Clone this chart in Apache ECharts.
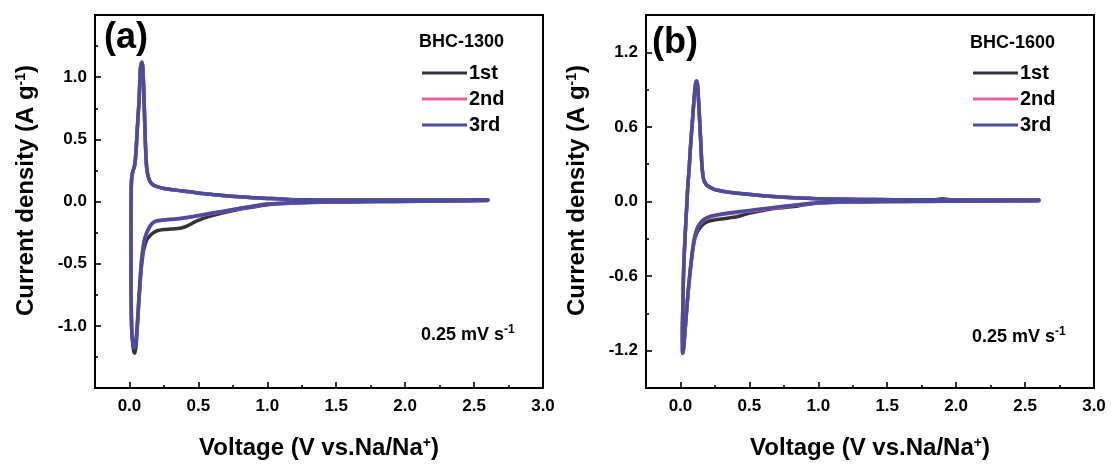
<!DOCTYPE html>
<html>
<head>
<meta charset="utf-8">
<script src="https://cdn.jsdelivr.net/npm/echarts@6/dist/echarts.min.js"></script>
<style>
html,body{margin:0;padding:0;background:#fff;}
#chart{width:1111px;height:465px;}
</style>
</head>
<body>
<div id="chart"></div>
<script>
// ---------- tick values / labels ----------
const xMajorTicks = [0, 0.5, 1.0, 1.5, 2.0, 2.5, 3.0];
const xMinorTicks = [0.25, 0.75, 1.25, 1.75, 2.25, 2.75];
const aYMajorTicks = [-1.0, -0.5, 0.0, 0.5, 1.0];
const aYMinorTicks = [-1.25, -0.75, -0.25, 0.25, 0.75, 1.25];
const bYMajorTicks = [-1.2, -0.6, 0.0, 0.6, 1.2];
const bYMinorTicks = [-0.9, -0.3, 0.3, 0.9];

const seriesNames = ['1st', '2nd', '3rd'];
const panelTitles = ['BHC-1300', 'BHC-1600'];

// ---------- data: [voltage V, current density A/g] ----------
// Panel (a) BHC-1300
const a1st = [
 [2.60,0.008],[2.40,0.005],[2.20,0.003],[2.00,0.001],[1.80,-0.001],[1.60,-0.004],[1.40,-0.007],[1.25,-0.011],
 [1.10,-0.018],[1.00,-0.026],[0.92,-0.040],[0.80,-0.062],[0.68,-0.090],[0.58,-0.120],[0.49,-0.155],[0.44,-0.185],
 [0.40,-0.205],[0.35,-0.218],[0.30,-0.222],[0.25,-0.225],[0.20,-0.235],[0.17,-0.255],[0.145,-0.28],[0.125,-0.31],
 [0.11,-0.36],[0.10,-0.41],[0.085,-0.55],[0.068,-0.82],[0.056,-1.03],[0.048,-1.16],[0.040,-1.22],[0.032,-1.21],
 [0.024,-1.15],[0.017,-1.05],[0.013,-0.85],[0.011,-0.55],[0.011,-0.25],[0.012,0.00],[0.014,0.15],[0.020,0.22],
 [0.030,0.26],[0.040,0.30],[0.050,0.44],[0.060,0.64],[0.070,0.81],[0.078,1.04],[0.083,1.09],[0.090,1.11],
 [0.096,1.08],[0.102,0.94],[0.108,0.74],[0.113,0.54],[0.119,0.37],[0.126,0.26],[0.136,0.20],[0.150,0.16],
 [0.170,0.135],[0.200,0.120],[0.250,0.105],[0.300,0.097],[0.400,0.082],[0.500,0.068],[0.600,0.057],[0.700,0.046],
 [0.800,0.038],[0.900,0.031],[1.000,0.025],[1.150,0.017],[1.300,0.014],[1.500,0.012],[1.800,0.012],[2.100,0.012],
 [2.400,0.012],[2.600,0.013]
];
const a2nd = [
 [2.60,0.009],[2.40,0.006],[2.20,0.004],[2.00,0.002],[1.80,0.000],[1.60,-0.002],[1.40,-0.005],[1.25,-0.009],
 [1.10,-0.015],[1.00,-0.021],[0.92,-0.034],[0.80,-0.056],[0.68,-0.080],[0.56,-0.102],[0.46,-0.122],[0.39,-0.134],
 [0.33,-0.143],[0.27,-0.149],[0.22,-0.154],[0.19,-0.162],[0.165,-0.180],[0.145,-0.210],[0.125,-0.255],[0.11,-0.305],
 [0.10,-0.365],[0.085,-0.51],[0.068,-0.79],[0.056,-1.00],[0.048,-1.11],[0.040,-1.15],[0.032,-1.15],[0.024,-1.11],
 [0.017,-1.04],[0.013,-0.85],[0.011,-0.55],[0.011,-0.25],[0.012,0.00],[0.014,0.15],[0.020,0.22],[0.030,0.26],
 [0.040,0.31],[0.050,0.45],[0.060,0.65],[0.070,0.82],[0.078,1.05],[0.083,1.10],[0.090,1.12],[0.096,1.09],
 [0.102,0.95],[0.108,0.75],[0.113,0.55],[0.119,0.38],[0.126,0.26],[0.136,0.20],[0.150,0.16],[0.170,0.135],
 [0.200,0.120],[0.250,0.105],[0.300,0.097],[0.400,0.082],[0.500,0.068],[0.600,0.057],[0.700,0.046],[0.800,0.038],
 [0.900,0.031],[1.000,0.025],[1.150,0.017],[1.300,0.014],[1.500,0.012],[1.800,0.012],[2.100,0.013],[2.400,0.013],
 [2.600,0.014]
];
const a3rd = [
 [2.60,0.010],[2.40,0.006],[2.20,0.004],[2.00,0.002],[1.80,0.000],[1.60,-0.002],[1.40,-0.005],[1.25,-0.008],
 [1.10,-0.014],[1.00,-0.020],[0.92,-0.033],[0.80,-0.055],[0.68,-0.078],[0.56,-0.100],[0.46,-0.120],[0.39,-0.132],
 [0.33,-0.140],[0.27,-0.145],[0.22,-0.150],[0.19,-0.158],[0.165,-0.175],[0.145,-0.205],[0.125,-0.25],[0.11,-0.30],
 [0.10,-0.36],[0.085,-0.50],[0.068,-0.78],[0.056,-1.00],[0.048,-1.12],[0.040,-1.17],[0.032,-1.18],[0.024,-1.13],
 [0.017,-1.05],[0.013,-0.85],[0.011,-0.55],[0.011,-0.25],[0.012,0.00],[0.014,0.15],[0.020,0.22],[0.030,0.26],
 [0.040,0.31],[0.050,0.45],[0.060,0.65],[0.070,0.82],[0.078,1.05],[0.083,1.10],[0.090,1.12],[0.096,1.09],
 [0.102,0.95],[0.108,0.75],[0.113,0.55],[0.119,0.38],[0.126,0.26],[0.136,0.20],[0.150,0.16],[0.170,0.135],
 [0.200,0.120],[0.250,0.105],[0.300,0.097],[0.400,0.082],[0.500,0.068],[0.600,0.057],[0.700,0.046],[0.800,0.038],
 [0.900,0.031],[1.000,0.025],[1.150,0.017],[1.300,0.014],[1.500,0.012],[1.800,0.012],[2.100,0.013],[2.400,0.013],
 [2.600,0.014]
];
// Panel (b) BHC-1600
const b1st = [
 [2.60,0.006],[2.40,0.004],[2.20,0.003],[2.00,0.002],[1.80,0.001],[1.60,0.000],[1.40,-0.002],[1.20,-0.005],
 [1.10,-0.008],[1.00,-0.013],[0.90,-0.027],[0.80,-0.043],[0.70,-0.053],[0.60,-0.072],[0.50,-0.093],[0.45,-0.110],
 [0.40,-0.125],[0.35,-0.133],[0.30,-0.140],[0.25,-0.148],[0.20,-0.160],[0.17,-0.180],[0.15,-0.200],[0.13,-0.230],
 [0.12,-0.250],[0.11,-0.280],[0.10,-0.320],[0.09,-0.385],[0.08,-0.47],[0.07,-0.57],[0.06,-0.68],[0.05,-0.81],
 [0.04,-0.95],[0.03,-1.09],[0.024,-1.17],[0.018,-1.22],[0.015,-1.21],[0.014,-1.05],[0.018,-0.80],[0.024,-0.51],
 [0.035,-0.25],[0.045,-0.05],[0.052,0.10],[0.065,0.30],[0.075,0.48],[0.085,0.62],[0.097,0.80],[0.106,0.91],
 [0.113,0.96],[0.120,0.96],[0.126,0.91],[0.131,0.81],[0.137,0.69],[0.144,0.54],[0.150,0.41],[0.155,0.30],
 [0.162,0.22],[0.170,0.17],[0.185,0.14],[0.200,0.125],[0.240,0.10],[0.280,0.088],[0.350,0.075],[0.490,0.058],
 [0.600,0.046],[0.750,0.035],[0.900,0.027],[1.030,0.021],[1.200,0.018],[1.400,0.016],[1.700,0.014],[1.850,0.014],
 [1.900,0.022],[1.950,0.014],[2.000,0.013],[2.300,0.013],[2.600,0.013]
];
const b2nd = [
 [2.60,0.007],[2.40,0.005],[2.20,0.004],[2.00,0.003],[1.80,0.002],[1.60,0.001],[1.40,-0.001],[1.20,-0.004],
 [1.10,-0.007],[1.00,-0.011],[0.90,-0.022],[0.80,-0.035],[0.70,-0.048],[0.60,-0.062],[0.50,-0.077],[0.40,-0.090],
 [0.30,-0.105],[0.25,-0.115],[0.20,-0.130],[0.17,-0.150],[0.15,-0.170],[0.13,-0.200],[0.12,-0.225],[0.11,-0.260],
 [0.10,-0.305],[0.09,-0.375],[0.08,-0.465],[0.07,-0.565],[0.06,-0.675],[0.05,-0.80],[0.04,-0.94],[0.03,-1.08],
 [0.024,-1.17],[0.018,-1.22],[0.015,-1.21],[0.014,-1.05],[0.018,-0.80],[0.024,-0.51],[0.035,-0.25],[0.045,-0.05],
 [0.052,0.10],[0.065,0.30],[0.075,0.48],[0.085,0.62],[0.097,0.80],[0.106,0.92],[0.113,0.97],[0.120,0.97],
 [0.126,0.92],[0.131,0.82],[0.137,0.70],[0.144,0.55],[0.150,0.42],[0.155,0.30],[0.162,0.22],[0.170,0.17],
 [0.185,0.14],[0.200,0.125],[0.240,0.10],[0.280,0.088],[0.350,0.075],[0.490,0.058],[0.600,0.046],[0.750,0.035],
 [0.900,0.027],[1.030,0.021],[1.200,0.018],[1.400,0.016],[1.700,0.014],[2.000,0.013],[2.300,0.013],[2.600,0.013]
];
const b3rd = [
 [2.60,0.008],[2.40,0.006],[2.20,0.004],[2.00,0.003],[1.80,0.002],[1.60,0.001],[1.40,0.000],[1.20,-0.003],
 [1.10,-0.006],[1.00,-0.010],[0.90,-0.020],[0.80,-0.032],[0.70,-0.045],[0.60,-0.058],[0.50,-0.072],[0.40,-0.085],
 [0.30,-0.100],[0.25,-0.110],[0.20,-0.125],[0.17,-0.145],[0.15,-0.165],[0.13,-0.195],[0.12,-0.220],[0.11,-0.255],
 [0.10,-0.300],[0.09,-0.370],[0.08,-0.46],[0.07,-0.56],[0.06,-0.67],[0.05,-0.80],[0.04,-0.94],[0.03,-1.08],
 [0.024,-1.17],[0.018,-1.22],[0.015,-1.21],[0.014,-1.05],[0.018,-0.80],[0.024,-0.51],[0.035,-0.25],[0.045,-0.05],
 [0.052,0.10],[0.065,0.30],[0.075,0.48],[0.085,0.62],[0.097,0.80],[0.106,0.92],[0.113,0.97],[0.120,0.97],
 [0.126,0.92],[0.131,0.82],[0.137,0.70],[0.144,0.55],[0.150,0.42],[0.155,0.30],[0.162,0.22],[0.170,0.17],
 [0.185,0.14],[0.200,0.125],[0.240,0.10],[0.280,0.088],[0.350,0.075],[0.490,0.058],[0.600,0.046],[0.750,0.035],
 [0.900,0.027],[1.030,0.021],[1.200,0.018],[1.400,0.016],[1.700,0.014],[2.000,0.013],[2.300,0.013],[2.600,0.013]
];

const colors = ['#33333d', '#e8609a', '#4a4c9f'];

// ---------- layout ----------
const FONT = "'Liberation Sans', Arial, Helvetica, sans-serif";
const gridLefts = [95, 646];
const GRID_TOP = 15, GRID_W = 448, GRID_H = 373;
const TICK = { color: '#000', width: 1.6 };

function mainX(gi) {
  return {
    type: 'value', gridIndex: gi, min: -0.25, max: 3.0, position: 'bottom',
    name: 'Voltage (V vs.Na/Na{sup|+})', nameLocation: 'middle', nameGap: 48,
    nameTextStyle: { fontFamily: FONT, fontWeight: 'bold', fontSize: 24, color: '#000',
      rich: { sup: { fontFamily: FONT, fontWeight: 'bold', fontSize: 14, color: '#000', verticalAlign: 'top', lineHeight: 14 } } },
    axisLine: { show: false, onZero: false },
    axisTick: { show: true, inside: true, length: 6, customValues: xMajorTicks, lineStyle: TICK },
    axisLabel: { show: true, customValues: xMajorTicks, margin: 10, formatter: v => v.toFixed(1),
      fontFamily: FONT, fontWeight: 'bold', fontSize: 17, color: '#000' },
    splitLine: { show: false }
  };
}
function minorX(gi) {
  return {
    type: 'value', gridIndex: gi, min: -0.25, max: 3.0, position: 'bottom',
    axisLine: { show: false, onZero: false },
    axisTick: { show: true, inside: true, length: 3, customValues: xMinorTicks, lineStyle: TICK },
    axisLabel: { show: false }, splitLine: { show: false }
  };
}
function mainY(gi, major) {
  return {
    type: 'value', gridIndex: gi, min: -1.5, max: 1.5, position: 'left',
    name: 'Current density (A g{sup|-1})', nameLocation: 'middle', nameGap: 57,
    nameTextStyle: { fontFamily: FONT, fontWeight: 'bold', fontSize: 24, color: '#000', padding: [0, 0, 0, 22],
      rich: { sup: { fontFamily: FONT, fontWeight: 'bold', fontSize: 14, color: '#000', verticalAlign: 'top', lineHeight: 14 } } },
    axisLine: { show: false, onZero: false },
    axisTick: { show: true, inside: true, length: 6, customValues: major, lineStyle: TICK },
    axisLabel: { show: true, customValues: major, margin: 8, formatter: v => v.toFixed(1),
      fontFamily: FONT, fontWeight: 'bold', fontSize: 17, color: '#000' },
    splitLine: { show: false }
  };
}
function minorY(gi, minor) {
  return {
    type: 'value', gridIndex: gi, min: -1.5, max: 1.5, position: 'left',
    axisLine: { show: false, onZero: false },
    axisTick: { show: true, inside: true, length: 3, customValues: minor, lineStyle: TICK },
    axisLabel: { show: false }, splitLine: { show: false }
  };
}
function lineSeries(name, data, idx, axisIdx) {
  return {
    type: 'line', name: name, data: data, xAxisIndex: axisIdx, yAxisIndex: axisIdx,
    showSymbol: false, symbol: 'none', smooth: 0.25, smoothMonotone: 'none',
    lineStyle: { color: colors[idx], width: 3.5, join: 'round', cap: 'round' },
    itemStyle: { color: colors[idx] },
    z: 2 + idx, silent: true
  };
}
function legendAt(left) {
  return {
    orient: 'vertical', left: left, top: 62, padding: 0,
    itemWidth: 45, itemHeight: 3, itemGap: 4, icon: 'rect',
    data: seriesNames, selectedMode: false,
    textStyle: { fontFamily: FONT, fontWeight: 'bold', fontSize: 20, color: '#000', lineHeight: 22, padding: [0, 0, 0, -3] }
  };
}
function txt(x, y, text, size, rich) {
  return {
    type: 'text', x: x, y: y, silent: true, z: 50,
    style: { text: text, fill: '#000', fontFamily: FONT, fontWeight: 'bold', fontSize: size,
      textVerticalAlign: 'middle', verticalAlign: 'middle', rich: rich || undefined }
  };
}
const supRich = {
  base: { fontFamily: FONT, fontWeight: 'bold', fontSize: 18, fill: '#000', color: '#000', lineHeight: 20, verticalAlign: 'bottom' },
  sup: { fontFamily: FONT, fontWeight: 'bold', fontSize: 12, fill: '#000', color: '#000', lineHeight: 20, verticalAlign: 'top', padding: [0, 0, 7, 0] }
};

const chart = echarts.init(document.getElementById('chart'), null, { renderer: 'canvas' });
chart.setOption({
  animation: false,
  backgroundColor: '#fff',
  grid: gridLefts.map(l => ({ left: l, top: GRID_TOP, width: GRID_W, height: GRID_H,
    show: true, borderColor: '#000', borderWidth: 2, backgroundColor: 'transparent', containLabel: false })),
  xAxis: [mainX(0), minorX(0), mainX(1), minorX(1)],
  yAxis: [mainY(0, aYMajorTicks), minorY(0, aYMinorTicks),
          mainY(1, bYMajorTicks), minorY(1, bYMinorTicks)],
  legend: [legendAt(422), legendAt(973)],
  series: [
    lineSeries(seriesNames[0], a1st, 0, 0),
    lineSeries(seriesNames[1], a2nd, 1, 0),
    lineSeries(seriesNames[2], a3rd, 2, 0),
    lineSeries(seriesNames[0], b1st, 0, 2),
    lineSeries(seriesNames[1], b2nd, 1, 2),
    lineSeries(seriesNames[2], b3rd, 2, 2)
  ],
  graphic: [
    txt(104, 38, '(a)', 36),
    txt(652, 43, '(b)', 36),
    txt(419, 42, panelTitles[0], 18),
    txt(970, 43, panelTitles[1], 18),
    txt(421, 334, '{base|0.25 mV s}{sup|-1}', 18, supRich),
    txt(972, 336, '{base|0.25 mV s}{sup|-1}', 18, supRich)
  ]
});
</script>
</body>
</html>
